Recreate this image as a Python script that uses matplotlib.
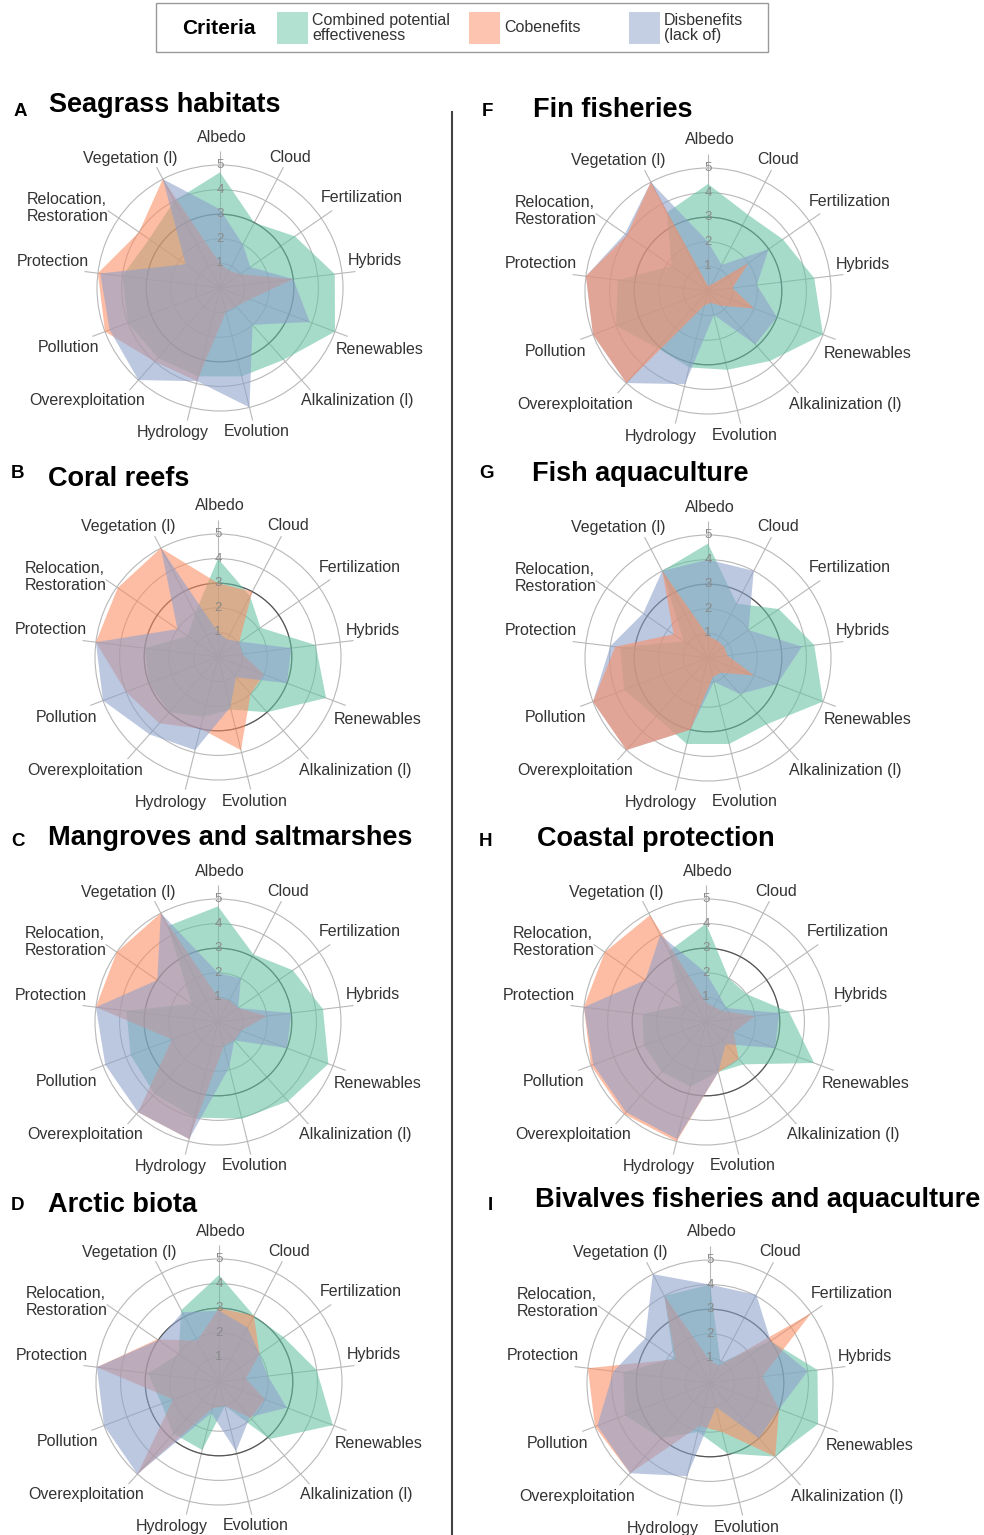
import numpy as np
import matplotlib
matplotlib.use('Agg')
import matplotlib.pyplot as plt
from matplotlib.patches import Rectangle
from matplotlib.lines import Line2D

plt.rcParams['font.family'] = ['Liberation Sans', 'DejaVu Sans']

# 13 criteria, clockwise from the top
categories = ['Albedo', 'Cloud', 'Fertilization', 'Hybrids', 'Renewables',
              'Alkalinization (l)', 'Evolution', 'Hydrology', 'Overexploitation',
              'Pollution', 'Protection', 'Relocation,\nRestoration', 'Vegetation (l)']

legend_labels = ['Combined potential\neffectiveness', 'Cobenefits', 'Disbenefits\n(lack of)']

# A Seagrass habitats
seagrass_eff = [4.7, 3.0, 3.7, 4.7, 5.0, 3.9, 3.7, 3.7, 3.8, 4.0, 4.0, 3.5, 4.0]
seagrass_cob = [1.0, 0.8, 1.0, 3.0, 1.3, 1.0, 1.0, 3.9, 4.0, 5.0, 5.0, 4.0, 5.0]
seagrass_dis = [3.2, 2.0, 1.5, 3.0, 3.9, 2.0, 5.0, 3.9, 5.0, 4.8, 4.9, 1.7, 5.0]
# B Coral reefs
coral_eff = [4.0, 2.8, 2.1, 4.0, 4.7, 3.0, 2.2, 2.5, 3.0, 3.0, 3.0, 1.5, 2.0]
coral_cob = [3.0, 3.0, 1.05, 1.0, 2.0, 2.0, 3.9, 3.0, 3.6, 4.0, 5.0, 4.95, 5.0]
coral_dis = [1.0, 0.8, 1.1, 3.0, 3.0, 1.1, 2.1, 3.9, 4.2, 5.0, 5.0, 2.0, 5.0]
# C Mangroves and saltmarshes
mangrove_eff = [4.7, 3.1, 3.7, 4.3, 4.8, 4.3, 4.05, 4.0, 3.9, 3.8, 3.75, 1.3, 4.4]
mangrove_cob = [1.0, 1.0, 1.0, 2.0, 1.0, 1.0, 1.0, 4.9, 4.9, 2.0, 5.0, 5.0, 5.0]
mangrove_dis = [2.0, 2.0, 1.0, 3.0, 3.0, 1.0, 1.9, 4.9, 4.9, 4.9, 5.0, 3.0, 5.0]
# D Arctic biota
arctic_eff = [4.35, 3.05, 3.2, 4.0, 4.95, 3.1, 1.0, 2.85, 2.8, 2.5, 2.9, 2.0, 3.3]
arctic_cob = [3.0, 3.05, 2.0, 1.1, 2.0, 1.95, 1.0, 1.1, 5.0, 2.0, 5.0, 3.05, 1.9]
arctic_dis = [2.9, 2.5, 2.0, 2.0, 2.95, 1.9, 2.9, 1.3, 5.0, 5.0, 5.0, 3.0, 3.2]
# F Fin fisheries
finfish_eff = [4.35, 3.5, 3.7, 4.35, 5.0, 3.8, 3.3, 3.2, 3.1, 4.0, 3.7, 1.8, 3.6]
finfish_cob = [0.2, 0.3, 2.0, 1.0, 2.0, 0.8, 0.5, 0.6, 5.0, 5.0, 5.0, 4.0, 5.0]
finfish_dis = [2.0, 1.2, 3.0, 2.0, 3.0, 2.9, 1.0, 3.9, 5.0, 5.0, 5.0, 4.1, 5.0]
# G Fish aquaculture
aquac_eff = [4.65, 2.5, 3.5, 4.35, 5.0, 3.6, 3.6, 3.6, 3.2, 3.65, 3.6, 1.2, 4.0]
aquac_cob = [0.9, 0.8, 0.8, 0.8, 2.0, 0.8, 0.8, 3.0, 5.0, 5.0, 3.8, 1.7, 4.0]
aquac_dis = [4.0, 4.0, 2.0, 3.85, 3.0, 1.95, 1.0, 3.0, 5.0, 5.0, 4.0, 3.2, 4.0]
# H Coastal protection
coastal_eff = [4.0, 2.0, 2.0, 3.4, 4.7, 2.3, 2.1, 2.7, 2.7, 2.7, 2.6, 1.2, 3.25]
coastal_cob = [0.8, 0.7, 0.8, 2.0, 1.2, 2.0, 2.1, 5.0, 5.0, 5.0, 5.0, 5.0, 4.9]
coastal_dis = [2.0, 1.2, 1.0, 3.0, 3.0, 1.2, 2.1, 4.9, 4.9, 4.9, 5.0, 3.0, 4.0]
# I Bivalves fisheries and aquaculture
bivalve_eff = [4.0, 0.93, 3.0, 4.4, 4.7, 4.0, 2.95, 2.05, 3.0, 3.7, 3.55, 1.8, 4.0]
bivalve_cob = [0.9, 0.8, 5.0, 2.15, 3.0, 4.0, 2.05, 1.8, 4.9, 5.0, 5.0, 1.7, 4.0]
bivalve_dis = [4.0, 4.05, 3.0, 4.0, 3.0, 3.0, 1.0, 3.9, 4.9, 4.9, 3.95, 3.2, 5.0]

green, orange, blue = '#66c2a5', '#fc8d62', '#8da0cb'

W, H = 984, 1535
fig = plt.figure(figsize=(W / 100, H / 100), dpi=100)


def fx(px):
    return px / W


def fy(py):
    return 1 - py / H


# label centres relative to the radar centre (pixels)
label_offsets = [(2, -151), (70, -131), (142, -90), (155, -27), (160, 62),
                 (137, 113), (37, 144), (-47, 145), (-133, 113), (-152, 60),
                 (-167, -27), (-152, -80), (-90, -130)]
UNIT = 24.6
RMAX = 5.55
theta = np.arange(len(categories)) * 2 * np.pi / len(categories)


def radar(cx, cy, letter, letter_x, letter_y, title, title_x, title_y,
          eff, cob, dis, cob_on_top=False):
    size = 2 * RMAX * UNIT
    ax = fig.add_axes([fx(cx - size / 2), fy(cy + size / 2), size / W, size / H],
                      projection='polar')
    ax.set_theta_zero_location('N')
    ax.set_theta_direction(-1)
    ax.set_ylim(0, RMAX)
    ax.set_xticks(theta)
    ax.set_xticklabels([])
    ax.set_yticks([1, 2, 3, 4, 5])
    ax.set_yticklabels([])
    ax.grid(True, color='#b8b8b8', lw=0.8)
    ax.spines['polar'].set_visible(False)
    ax.set_axisbelow(True)
    ring = np.linspace(0, 2 * np.pi, 300)
    ax.plot(ring, np.full_like(ring, 3), color='#555555', lw=0.9, zorder=1)

    th = np.append(theta, theta[0])
    series = [(eff, green), (cob, orange), (dis, blue)]
    if cob_on_top:
        series = [(eff, green), (dis, blue), (cob, orange)]
    for vals, col in series:
        v = np.append(vals, vals[0])
        ax.fill(th, v, color=col, alpha=0.58, lw=0, zorder=2)

    for v in range(1, 6):
        ax.text(0, v, str(v), ha='center', va='center', fontsize=9.5,
                color='#8a8a8a', zorder=3)
    for cat, (dx, dy) in zip(categories, label_offsets):
        ax.annotate(cat, xy=(0, 0), xytext=(dx, -dy), textcoords='offset pixels',
                    ha='center', va='center', fontsize=11.5, color='#333333',
                    multialignment='left', annotation_clip=False)

    fig.text(fx(letter_x), fy(letter_y), letter, fontsize=13.5,
             fontweight='bold', ha='center', va='center')
    fig.text(fx(title_x), fy(title_y), title, fontsize=19.5,
             fontweight='bold', ha='left', va='center')


radar(220, 288, 'A', 20, 112, 'Seagrass habitats', 49, 105,
      seagrass_eff, seagrass_cob, seagrass_dis)
radar(218, 657, 'B', 18, 474, 'Coral reefs', 48, 479,
      coral_eff, coral_cob, coral_dis)
radar(218, 1022, 'C', 18, 842, 'Mangroves and saltmarshes', 48, 838,
      mangrove_eff, mangrove_cob, mangrove_dis)
radar(219, 1382, 'D', 17, 1205, 'Arctic biota', 48, 1205,
      arctic_eff, arctic_cob, arctic_dis)
radar(708, 291, 'F', 487, 111, 'Fin fisheries', 533, 110,
      finfish_eff, finfish_cob, finfish_dis, True)
radar(708, 658, 'G', 487, 474, 'Fish aquaculture', 532, 474,
      aquac_eff, aquac_cob, aquac_dis, True)
radar(706, 1022, 'H', 485, 842, 'Coastal protection', 537, 839,
      coastal_eff, coastal_cob, coastal_dis)
radar(710, 1383, 'I', 490, 1205, 'Bivalves fisheries and aquaculture', 535, 1200,
      bivalve_eff, bivalve_cob, bivalve_dis)

# separator between the columns
fig.add_artist(Line2D([fx(452), fx(452)], [fy(112), fy(1535)], color='#444444', lw=1.5))

# legend box
fig.add_artist(Rectangle((fx(156), fy(52)), (768 - 156) / W, 49 / H, fill=False,
                         edgecolor='#999999', lw=1, transform=fig.transFigure))
fig.text(fx(182), fy(28), 'Criteria', fontsize=15, fontweight='bold', ha='left', va='center')
for x0, col, lab in zip([277, 469, 629], [green, orange, blue], legend_labels):
    fig.add_artist(Rectangle((fx(x0), fy(44)), 31 / W, 32 / H, facecolor=col, alpha=0.5,
                             lw=0, transform=fig.transFigure))
    fig.text(fx(x0 + 35), fy(28), lab, fontsize=11.5, color='#333333', ha='left',
             va='center', linespacing=0.95)

fig.savefig('out.png', dpi=100)
